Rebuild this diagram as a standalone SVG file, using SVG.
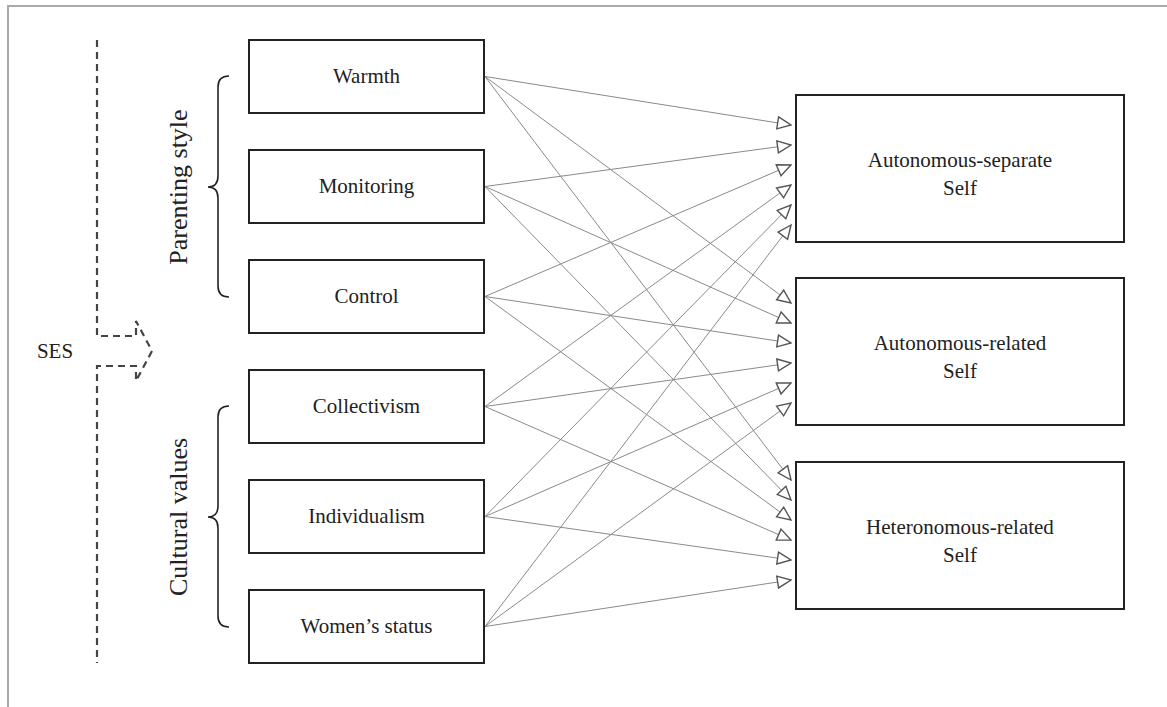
<svg xmlns="http://www.w3.org/2000/svg" width="1167" height="707" viewBox="0 0 1167 707">
  <defs>
    <marker id="tri" viewBox="0 0 16 15" refX="15" refY="7.5" markerWidth="16" markerHeight="15" markerUnits="userSpaceOnUse" orient="auto">
      <path d="M1.5,1.5 L15,7.5 L1.5,13.5 Z" fill="#fff" stroke="#555" stroke-width="1.4" stroke-linejoin="miter"/>
    </marker>
    <style>
      .box { fill: #fff; stroke: #222; stroke-width: 2; }
      .lbl { font-family: "Liberation Serif", "Times New Roman", serif; font-size: 21px; fill: #222; text-anchor: middle; }
      .big { font-family: "Liberation Serif", "Times New Roman", serif; font-size: 21px; fill: #222; text-anchor: middle; }
      .grp { font-family: "Liberation Serif", "Times New Roman", serif; font-size: 26px; fill: #222; text-anchor: middle; }
      .brace { fill: none; stroke: #222; stroke-width: 1.6; }
      .dash { fill: none; stroke: #444; stroke-width: 2.2; stroke-dasharray: 7 5; }
      .link { stroke: #8a8a8a; stroke-width: 1; fill: none; marker-end: url(#tri); }
      .frame { fill: none; stroke: #aaa; stroke-width: 2; }
    </style>
  </defs>

  <rect width="1167" height="707" fill="#fff"/>
  <path class="frame" d="M8,707 L8,6 L1167,6"/>

  <!-- SES: dashed line with outlined arrow -->
  <g id="ses">
    <path class="dash" d="M97,40 L97,336 L136,336 L136,321 L152,351 L136,381 L136,366 L97,366 L97,663"/>
    <text class="lbl" x="55" y="358">SES</text>
  </g>

  <!-- group braces and labels -->
  <g id="parenting-style">
    <path class="brace" d="M229,76 Q218,76 218,87 L218,176 Q218,187 208,187 Q218,187 218,198 L218,286 Q218,297 229,297"/>
    <text class="grp" transform="translate(187,187) rotate(-90)">Parenting style</text>
  </g>
  <g id="cultural-values">
    <path class="brace" d="M229,406 Q218,406 218,417 L218,506 Q218,517 208,517 Q218,517 218,528 L218,616 Q218,627 229,627"/>
    <text class="grp" transform="translate(187,517) rotate(-90)">Cultural values</text>
  </g>

  <!-- connectors -->
  <g id="connectors">
    <!-- Warmth -->
    <line class="link" x1="485" y1="76.5" x2="791" y2="125"/>
    <line class="link" x1="485" y1="76.5" x2="791" y2="303"/>
    <line class="link" x1="485" y1="76.5" x2="791" y2="480"/>
    <!-- Monitoring -->
    <line class="link" x1="485" y1="186.5" x2="791" y2="145"/>
    <line class="link" x1="485" y1="186.5" x2="791" y2="323"/>
    <line class="link" x1="485" y1="186.5" x2="791" y2="500"/>
    <!-- Control -->
    <line class="link" x1="485" y1="296.5" x2="791" y2="165"/>
    <line class="link" x1="485" y1="296.5" x2="791" y2="343"/>
    <line class="link" x1="485" y1="296.5" x2="791" y2="520"/>
    <!-- Collectivism -->
    <line class="link" x1="485" y1="406.5" x2="791" y2="185"/>
    <line class="link" x1="485" y1="406.5" x2="791" y2="363"/>
    <line class="link" x1="485" y1="406.5" x2="791" y2="540"/>
    <!-- Individualism -->
    <line class="link" x1="485" y1="516.5" x2="791" y2="205"/>
    <line class="link" x1="485" y1="516.5" x2="791" y2="383"/>
    <line class="link" x1="485" y1="516.5" x2="791" y2="560"/>
    <!-- Women's status -->
    <line class="link" x1="485" y1="626.5" x2="791" y2="225"/>
    <line class="link" x1="485" y1="626.5" x2="791" y2="403"/>
    <line class="link" x1="485" y1="626.5" x2="791" y2="580"/>
  </g>

  <!-- predictor nodes -->
  <g id="warmth">
    <rect class="box" x="249" y="40" width="235" height="73"/>
    <text class="lbl" x="366.5" y="83">Warmth</text>
  </g>
  <g id="monitoring">
    <rect class="box" x="249" y="150" width="235" height="73"/>
    <text class="lbl" x="366.5" y="193">Monitoring</text>
  </g>
  <g id="control">
    <rect class="box" x="249" y="260" width="235" height="73"/>
    <text class="lbl" x="366.5" y="303">Control</text>
  </g>
  <g id="collectivism">
    <rect class="box" x="249" y="370" width="235" height="73"/>
    <text class="lbl" x="366.5" y="413">Collectivism</text>
  </g>
  <g id="individualism">
    <rect class="box" x="249" y="480" width="235" height="73"/>
    <text class="lbl" x="366.5" y="523">Individualism</text>
  </g>
  <g id="womens-status">
    <rect class="box" x="249" y="590" width="235" height="73"/>
    <text class="lbl" x="366.5" y="633">Women’s status</text>
  </g>

  <!-- outcome nodes -->
  <g id="autonomous-separate">
    <rect class="box" x="796" y="95" width="328" height="147"/>
    <text class="big" x="960" y="167">Autonomous-separate</text>
    <text class="big" x="960" y="195">Self</text>
  </g>
  <g id="autonomous-related">
    <rect class="box" x="796" y="278" width="328" height="147"/>
    <text class="big" x="960" y="350">Autonomous-related</text>
    <text class="big" x="960" y="378">Self</text>
  </g>
  <g id="heteronomous-related">
    <rect class="box" x="796" y="462" width="328" height="147"/>
    <text class="big" x="960" y="534">Heteronomous-related</text>
    <text class="big" x="960" y="562">Self</text>
  </g>
</svg>
